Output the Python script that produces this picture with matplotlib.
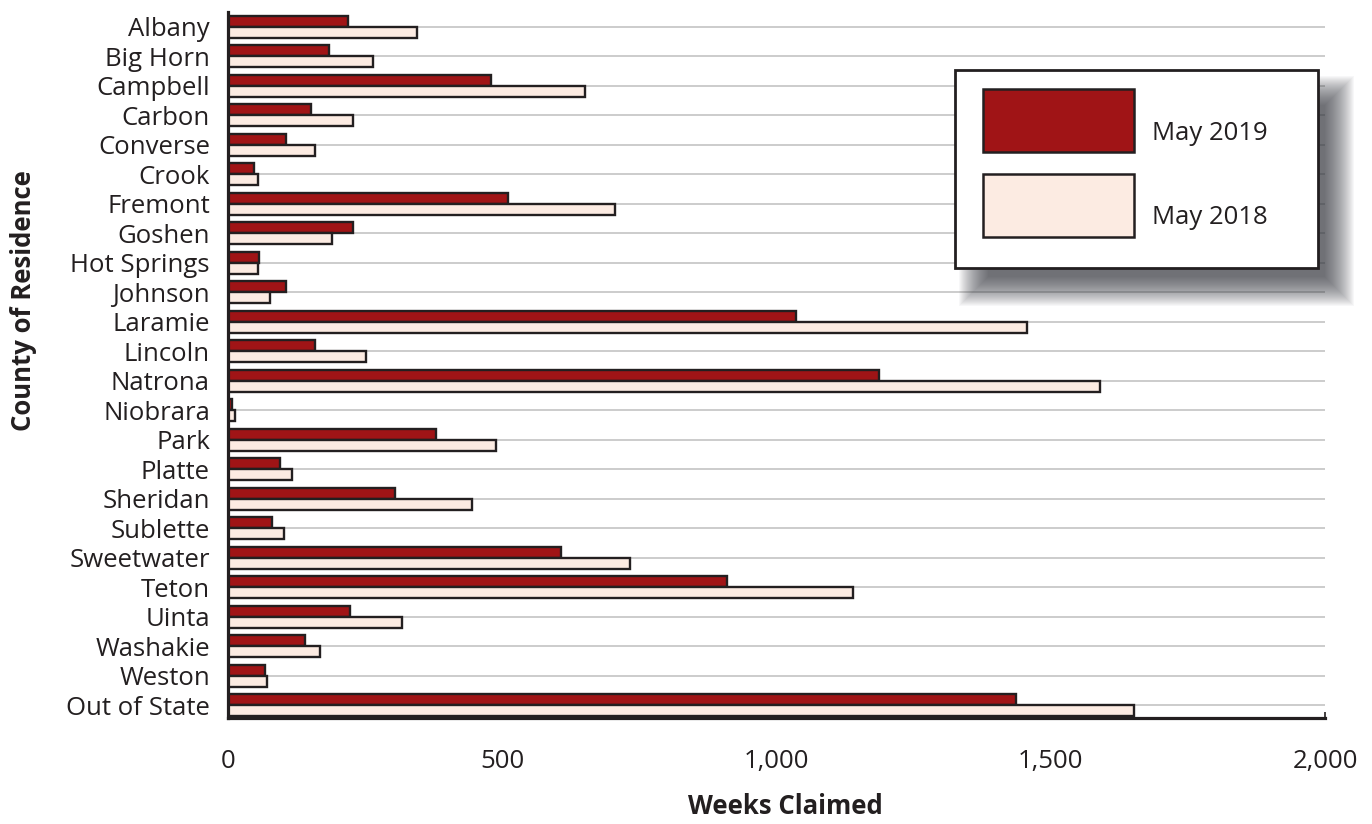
import numpy as np
import matplotlib.pyplot as plt
from matplotlib.patches import Rectangle

plt.rcParams['font.family'] = ['Open Sans', 'DejaVu Sans']

counties = ["Albany", "Big Horn", "Campbell", "Carbon", "Converse", "Crook",
            "Fremont", "Goshen", "Hot Springs", "Johnson", "Laramie", "Lincoln",
            "Natrona", "Niobrara", "Park", "Platte", "Sheridan", "Sublette",
            "Sweetwater", "Teton", "Uinta", "Washakie", "Weston", "Out of State"]
may_2019 = [219, 185, 480, 151, 106, 47, 511, 227, 57, 105, 1036, 159,
            1187, 8, 380, 95, 305, 80, 607, 909, 222, 141, 68, 1437]
may_2018 = [344, 264, 650, 228, 158, 54, 705, 189, 54, 77, 1456, 252,
            1589, 12, 489, 116, 445, 103, 733, 1139, 318, 168, 72, 1651]
x_ticks = [0, 500, 1000, 1500, 2000]
x_tick_labels = ["0", "500", "1,000", "1,500", "2,000"]

RED = "#a01416"
PINK = "#fcebe2"
EDGE = "#231f20"
GRID = "#c8c8c8"
FS = 18.5
W, H = 1372, 824

fig = plt.figure(figsize=(W / 100, H / 100), dpi=100)
ax = fig.add_axes([228 / W, 1 - 718 / H, (1325 - 228) / W, (718 - 11.7) / H])

y = np.arange(len(counties))
bh = 0.37
ax.barh(y - bh / 2, may_2019, height=bh, color=RED, edgecolor=EDGE,
        linewidth=1.7, zorder=3, label="May 2019")
ax.barh(y + bh / 2, may_2018, height=bh, color=PINK, edgecolor=EDGE,
        linewidth=1.7, zorder=3, label="May 2018")

# gridlines through each county centre
for yi in y:
    ax.axhline(yi, color=GRID, linewidth=1.3, zorder=1)

ax.set_xlim(0, 2000)
ax.set_ylim(len(counties) - 1 + 0.43, -0.51)
ax.set_yticks(y)
ax.set_yticklabels(counties, fontsize=FS, color=EDGE)
ax.set_xticks(x_ticks)
ax.set_xticklabels(x_tick_labels, fontsize=FS, color=EDGE)
ax.tick_params(axis="y", length=0, pad=13)
ax.tick_params(axis="x", direction="in", length=4, width=1.2, pad=22, colors=EDGE)

for s in ["top", "right"]:
    ax.spines[s].set_visible(False)
for s in ["left", "bottom"]:
    ax.spines[s].set_linewidth(2.3)
    ax.spines[s].set_color(EDGE)
    ax.spines[s].set_zorder(4)

fig.text(785 / W, 1 - 806 / H, "Weeks Claimed", fontsize=FS,
         fontweight="bold", ha="center", va="center", color=EDGE)
fig.text(24 / W, 1 - 301 / H, "County of Residence", fontsize=FS,
         fontweight="bold", rotation=90, ha="center", va="center", color=EDGE)

# legend box with a soft shadow
def fx(px):
    return px / W

def fy(py):
    return 1 - py / H

bx0, bx1, by0, by1 = 955, 1318, 70, 268
sdx, sdy = 20, 22
for grow in range(16, -14, -1):
    fig.patches.append(Rectangle(
        (fx(bx0 + sdx - grow), fy(by1 + sdy + grow)),
        fx(bx1 - bx0 + 2 * grow), (by1 - by0 + 2 * grow) / H,
        transform=fig.transFigure, facecolor="#34373f", edgecolor="none",
        alpha=0.035, zorder=5))
fig.patches.append(Rectangle(
    (fx(bx0), fy(by1)), fx(bx1 - bx0), (by1 - by0) / H,
    transform=fig.transFigure, facecolor="white", edgecolor=EDGE,
    linewidth=2, zorder=6))

for color, label, top, text_y in [(RED, "May 2019", 89, 133),
                                 (PINK, "May 2018", 174, 218)]:
    fig.patches.append(Rectangle(
        (fx(983), fy(top + 63)), fx(1134 - 983), 63 / H,
        transform=fig.transFigure, facecolor=color, edgecolor=EDGE,
        linewidth=1.8, zorder=7))
    fig.text(fx(1152), fy(text_y), label, fontsize=FS, ha="left",
             va="center", color=EDGE, zorder=8)

fig.savefig("out.png", dpi=100)
plt.close(fig)
